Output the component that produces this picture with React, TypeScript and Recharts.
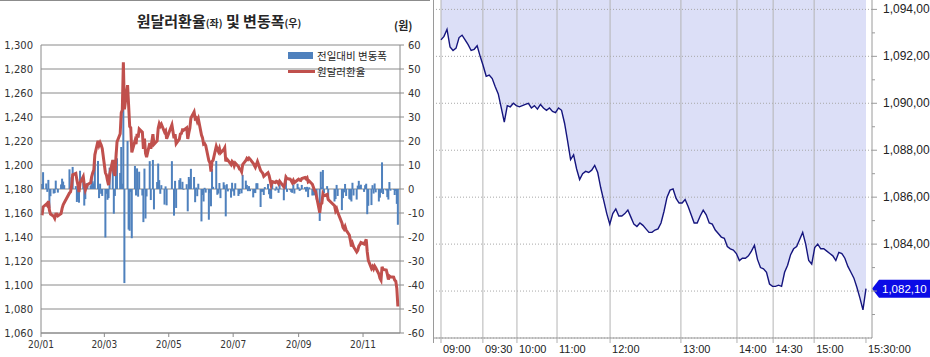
import React from 'react';
import {
  ComposedChart,
  Bar,
  Line,
  Area,
  XAxis,
  YAxis,
  CartesianGrid,
  ReferenceLine,
  Legend,
} from 'recharts';

// ---------- left panel: daily USD/KRW 2020 ----------

// trading days of 2020 (day of month), one row per month Jan..Dec
const TRADING_DAYS: number[][] = [
  [2, 3, 6, 7, 8, 9, 10, 13, 14, 15, 16, 17, 20, 21, 22, 23, 28, 29, 30, 31],
  [3, 4, 5, 6, 7, 10, 11, 12, 13, 14, 17, 18, 19, 20, 21, 24, 25, 26, 27, 28],
  [2, 3, 4, 5, 6, 9, 10, 11, 12, 13, 16, 17, 18, 19, 20, 23, 24, 25, 26, 27, 30, 31],
  [1, 2, 3, 6, 7, 8, 9, 10, 13, 14, 16, 17, 20, 21, 22, 23, 24, 27, 28, 29],
  [4, 6, 7, 8, 11, 12, 13, 14, 15, 18, 19, 20, 21, 22, 25, 26, 27, 28, 29],
  [1, 2, 3, 4, 5, 8, 9, 10, 11, 12, 15, 16, 17, 18, 19, 22, 23, 24, 25, 26, 29, 30],
  [1, 2, 3, 6, 7, 8, 9, 10, 13, 14, 15, 16, 17, 20, 21, 22, 23, 24, 27, 28, 29, 30, 31],
  [3, 4, 5, 6, 7, 10, 11, 12, 13, 14, 18, 19, 20, 21, 24, 25, 26, 27, 28, 31],
  [1, 2, 3, 4, 7, 8, 9, 10, 11, 14, 15, 16, 17, 18, 21, 22, 23, 24, 25, 28, 29],
  [5, 6, 7, 8, 12, 13, 14, 15, 16, 19, 20, 21, 22, 23, 26, 27, 28, 29, 30],
  [2, 3, 4, 5, 6, 9, 10, 11, 12, 13, 16, 17, 18, 19, 20, 23, 24, 25, 26, 27, 30],
  [1, 2, 3, 4],
];

// 원달러환율 (left axis)
const usdKrw: number[] = [
  1158.1, 1165.1, 1167.4, 1166.2, 1170.0, 1162.1, 1159.1, 1157.2, 1155.5, 1159.0, 1159.1, 1157.6, 1159.5, 1163.8, 1166.9, 1168.5, 1176.7, 1177.7, 1182.6, 1191.8,
  1193.0, 1187.6, 1183.2, 1177.5, 1185.1, 1190.3, 1183.4, 1179.2, 1181.6, 1183.7, 1185.2, 1190.3, 1193.5, 1195.8, 1208.5, 1220.2, 1216.4, 1218.6, 1216.6, 1213.7,
  1193.5, 1191.5, 1187.0, 1183.2, 1192.1, 1204.2, 1193.9, 1191.0, 1206.5, 1219.3, 1226.0, 1243.5, 1245.7, 1285.7, 1246.5, 1266.5, 1249.6, 1232.2, 1231.0, 1210.5, 1220.1, 1217.4,
  1226.0, 1222.8, 1230.0, 1227.3, 1213.5, 1222.0, 1209.7, 1206.6, 1218.2, 1213.6, 1225.7, 1217.2, 1220.1, 1230.7, 1234.4, 1232.4, 1234.0, 1227.5, 1228.6, 1221.8,
  1233.4, 1222.3, 1225.7, 1217.8, 1221.5, 1226.0, 1226.3, 1229.3, 1229.0, 1231.0, 1221.7, 1226.7, 1230.8, 1239.2, 1244.2, 1238.7, 1239.3, 1236.3, 1238.5,
  1225.0, 1222.5, 1217.3, 1217.8, 1216.3, 1203.5, 1201.8, 1194.6, 1203.0, 1203.9, 1215.6, 1213.2, 1211.3, 1213.8, 1210.0, 1212.8, 1214.4, 1203.0, 1205.0, 1204.0, 1200.4, 1203.0,
  1202.0, 1199.2, 1201.6, 1198.7, 1196.6, 1196.2, 1194.4, 1200.3, 1203.8, 1205.5, 1204.6, 1205.8, 1204.9, 1201.4, 1199.8, 1198.1, 1200.5, 1202.9, 1195.4, 1194.2, 1193.1, 1190.6, 1191.4,
  1193.5, 1191.3, 1187.4, 1183.3, 1186.1, 1185.4, 1186.4, 1186.1, 1184.5, 1186.5, 1181.8, 1184.3, 1189.9, 1188.7, 1188.2, 1186.9, 1185.3, 1187.2, 1185.3, 1187.5,
  1188.2, 1187.4, 1187.1, 1188.8, 1189.6, 1188.5, 1189.4, 1186.0, 1186.7, 1184.0, 1181.4, 1178.8, 1177.9, 1173.5, 1160.2, 1167.4, 1168.1, 1176.0, 1174.3, 1175.5, 1171.2,
  1166.0, 1161.8, 1163.5, 1160.6, 1151.8, 1148.0, 1146.6, 1148.7, 1145.8, 1141.7, 1137.2, 1132.0, 1134.6, 1131.9, 1127.5, 1128.9, 1132.3, 1133.6, 1135.4,
  1134.2, 1135.8, 1138.0, 1127.5, 1120.5, 1113.8, 1115.4, 1113.5, 1115.8, 1114.4, 1109.2, 1105.6, 1104.0, 1115.1, 1113.0, 1112.4, 1109.0, 1104.6, 1107.5, 1106.8, 1106.5,
  1104.0, 1103.2, 1097.0, 1082.1,
];

// 전일대비 변동폭 (right axis)
const dailyChange: number[] = [
  2.1, 7.0, 2.3, -1.2, 3.8, -7.9, -3.0, -1.9, -1.7, 3.5, 0.1, -1.5, 1.9, 4.3, 3.1, 1.6, 8.2, 1.0, 4.9, 9.2,
  1.2, -5.4, -4.4, -5.7, 7.6, 5.2, -6.9, -4.2, 2.4, 2.1, 1.5, 5.1, 3.2, 2.3, 12.7, 11.7, -3.8, 2.2, -2.0, -2.9,
  -20.2, -2.0, -4.5, -3.8, 8.9, 12.1, -10.3, -2.9, 15.5, 12.8, 6.7, 17.5, 2.2, 40.0, -39.2, 20.0, -16.9, -17.4, -1.2, -20.5, 9.6, -2.7,
  8.6, -3.2, 7.2, -2.7, -13.8, 8.5, -12.3, -3.1, 11.6, -4.6, 12.1, -8.5, 2.9, 10.6, 3.7, -2.0, 1.6, -6.5, 1.1, -6.8,
  11.6, -11.1, 3.4, -7.9, 3.7, 4.5, 0.3, 3.0, -0.3, 2.0, -9.3, 5.0, 4.1, 8.4, 5.0, -5.5, 0.6, -3.0, 2.2,
  -13.5, -2.5, -5.2, 0.5, -1.5, -12.8, -1.7, -7.2, 8.4, 0.9, 11.7, -2.4, -1.9, 2.5, -3.8, 2.8, 1.6, -11.4, 2.0, -1.0, -3.6, 2.6,
  -1.0, -2.8, 2.4, -2.9, -2.1, -0.4, -1.8, 5.9, 3.5, 1.7, -0.9, 1.2, -0.9, -3.5, -1.6, -1.7, 2.4, 2.4, -7.5, -1.2, -1.1, -2.5, 0.8,
  2.1, -2.2, -3.9, -4.1, 2.8, -0.7, 1.0, -0.3, -1.6, 2.0, -4.7, 2.5, 5.6, -1.2, -0.5, -1.3, -1.6, 1.9, -1.9, 2.2,
  0.7, -0.8, -0.3, 1.7, 0.8, -1.1, 0.9, -3.4, 0.7, -2.7, -2.6, -2.6, -0.9, -4.4, -13.3, 7.2, 0.7, 7.9, -1.7, 1.2, -4.3,
  -5.2, -4.2, 1.7, -2.9, -8.8, -3.8, -1.4, 2.1, -2.9, -4.1, -4.5, -5.2, 2.6, -2.7, -4.4, 1.4, 3.4, 1.3, 1.8,
  -1.2, 1.6, 2.2, -10.5, -7.0, -6.7, 1.6, -1.9, 2.3, -1.4, -5.2, -3.6, -1.6, 11.1, -2.1, -0.6, -3.4, -4.4, 2.9, -0.7, -0.3,
  -2.5, -0.8, -6.2, -14.9,
];

const monthTickLabels = ['20/01', '20/03', '20/05', '20/07', '20/09', '20/11'];
const monthTickMonths = [0, 2, 4, 6, 8, 10];
const rateTicks = [1060, 1080, 1100, 1120, 1140, 1160, 1180, 1200, 1220, 1240, 1260, 1280, 1300];
const changeTicks = [-60, -50, -40, -30, -20, -10, 0, 10, 20, 30, 40, 50, 60];

// ---------- right panel: intraday quotes (09:00 ~ 15:30) ----------

const intradayPrice: number[] = [
  1092.7, 1092.85, 1093.15, 1092.4, 1092.25, 1092.35, 1092.8, 1092.9, 1092.7, 1092.5,
  1092.25, 1092.3, 1092.45, 1092.0, 1091.6, 1091.15, 1091.2, 1091.05, 1090.7, 1090.4,
  1089.8, 1089.2, 1089.9, 1089.85, 1090.0, 1089.9, 1089.85, 1089.9, 1089.95, 1090.0,
  1089.8, 1089.9, 1089.75, 1089.95, 1089.8, 1089.7, 1089.8, 1089.65, 1089.6, 1089.8,
  1089.7, 1089.15, 1088.4, 1087.6, 1087.8, 1087.2, 1086.75, 1087.0, 1087.1, 1087.05,
  1087.15, 1087.35, 1087.05, 1086.4, 1085.85, 1085.3, 1084.85, 1085.3, 1085.5, 1085.2,
  1085.2, 1085.3, 1085.45, 1085.15, 1084.85, 1084.75, 1084.9, 1084.8, 1084.65, 1084.5,
  1084.5, 1084.6, 1084.65, 1084.9, 1085.4, 1086.0, 1086.3, 1086.35, 1085.95, 1085.75,
  1085.75, 1085.9, 1085.6, 1085.25, 1084.9, 1084.9, 1085.2, 1085.45, 1085.25, 1084.9,
  1084.85, 1084.6, 1084.45, 1084.3, 1084.25, 1083.9, 1083.8, 1083.75, 1083.6, 1083.3,
  1083.4, 1083.4, 1083.5, 1083.7, 1083.95, 1083.35, 1083.0, 1082.95, 1082.8, 1082.3,
  1082.2, 1082.2, 1082.25, 1082.2, 1082.8, 1083.1, 1083.55, 1083.8, 1083.9, 1084.2,
  1084.5, 1084.0, 1083.3, 1083.15, 1083.85, 1084.0, 1083.8, 1083.8, 1083.7, 1083.6,
  1083.5, 1083.3, 1083.65, 1083.6, 1083.4, 1083.05, 1082.8, 1082.55, 1082.15, 1081.7,
  1081.2, 1082.1,
];

const timeLabels = ['09:00', '09:30', '10:00', '11:00', '12:00', '13:00', '14:00', '14:30', '15:00', '15:30:00'];
// position of each time label in the quote sequence
const timeTickPos = [0, 13.9, 25.2, 38.5, 56.1, 79.6, 98.2, 110.2, 123.8, 141];
const priceTicks = [1081, 1082, 1083, 1084, 1085, 1086, 1087, 1088, 1089, 1090, 1091, 1092, 1093, 1094];
const priceGrid = [1080, 1082, 1084, 1086, 1088, 1090, 1092, 1094];
const lastPrice = 1082.1;

const CJK = '"Noto Sans CJK KR", "Noto Sans", sans-serif';
const BAR_BLUE = '#4f81bd';
const LINE_RED = '#c0504d';

const dayOfYear = (m: number, d: number) =>
  Math.round((Date.UTC(2020, m, d) - Date.UTC(2020, 0, 1)) / 86400000);

const fxData = TRADING_DAYS.flatMap((days, m) => days.map((d) => dayOfYear(m, d))).map((day, i) => ({
  day,
  rate: usdKrw[i],
  chg: dailyChange[i],
}));
const monthStartDays = monthTickMonths.map((m) => dayOfYear(m, 1));

const quotes = intradayPrice.map((p, i) => ({ i, p }));

const fmtPrice = (v: number) =>
  v.toLocaleString('en-US', { minimumFractionDigits: 2, maximumFractionDigits: 2 }).replace('.', ',');

// daily bars sit on a date axis (1 day ~ 1px), so widen each one around its centre
const ChangeBar = (props: any) => {
  const { x, y, width, height, fill } = props;
  if (x == null || y == null) return null;
  const top = Math.min(y, y + height);
  const h = Math.abs(height);
  const cx = x + width / 2;
  return <rect x={cx - 1} y={top} width={2} height={h} fill={fill} />;
};

const FxLegend = () => (
  <div style={{ fontFamily: CJK, fontSize: 10.5, color: '#262626', lineHeight: '15.5px' }}>
    <div style={{ display: 'flex', alignItems: 'center' }}>
      <span style={{ display: 'inline-block', width: 25, height: 7, background: BAR_BLUE, marginRight: 4 }} />
      전일대비 변동폭
    </div>
    <div style={{ display: 'flex', alignItems: 'center' }}>
      <span style={{ display: 'inline-block', width: 27, height: 3, background: LINE_RED, marginRight: 2 }} />
      원달러환율
    </div>
  </div>
);

const PriceTick = ({ x, y, payload }: any) => {
  const major = payload.value % 2 === 0;
  // the current-price tag covers the 1,082 label
  const showLabel = major && Math.abs(payload.value - lastPrice) > 0.5;
  return (
    <g>
      <line x1={x} x2={x + (major ? 5 : 3)} y1={y} y2={y} stroke="#9a9a9a" />
      {showLabel && (
        <text x={x + 11} y={y} dy={4} fill="#222" fontSize={12} fontFamily='"Liberation Sans", Arial, sans-serif'>
          {fmtPrice(payload.value)}
        </text>
      )}
    </g>
  );
};

const TimeTick = ({ x, y, payload }: any) => (
  <text x={x + 2} y={y} dy={10} textAnchor="start" fill="#222" fontSize={11} fontFamily='"Liberation Sans", Arial, sans-serif'>
    {timeLabels[timeTickPos.indexOf(payload.value)]}
  </text>
);

const PriceTag = ({ viewBox, text }: any) => {
  if (!viewBox) return null;
  const x = viewBox.x + viewBox.width;
  const y = viewBox.y;
  return (
    <g>
      <polygon
        points={`${x},${y} ${x + 7},${y - 9} ${x + 60},${y - 9} ${x + 60},${y + 9} ${x + 7},${y + 9}`}
        fill="#0b0be6"
      />
      <text x={x + 10} y={y} dy={4} fill="#fff" fontSize={11.5} fontFamily='"Liberation Sans", Arial, sans-serif'>
        {text}
      </text>
    </g>
  );
};

export default function App() {
  return (
    <div style={{ position: 'absolute', left: 0, top: 0, width: 930, height: 357, background: '#fff', overflow: 'hidden' }}>
      {/* left panel */}
      <div style={{ position: 'absolute', left: 0, top: 0, width: 430, height: 1, background: '#8c8c8c' }} />
      <div
        style={{
          position: 'absolute', left: 4, top: 10, width: 430, textAlign: 'center',
          fontFamily: CJK, fontWeight: 700, fontSize: 15, color: '#262626', lineHeight: '22px',
        }}
      >
        원달러환율<span style={{ fontSize: 10 }}>(좌)</span> 및 변동폭<span style={{ fontSize: 10 }}>(우)</span>
      </div>
      <div style={{ position: 'absolute', left: 394, top: 17, fontFamily: CJK, fontSize: 11, fontWeight: 700, color: '#262626' }}>
        (원)
      </div>
      <div style={{ position: 'absolute', left: 0, top: 0 }}>
        <ComposedChart width={430} height={357} data={fxData} margin={{ top: 45, right: 0, bottom: 0, left: 0 }}>
          <CartesianGrid yAxisId="rate" vertical={false} stroke="#8a8a8a" />
          <XAxis
            type="number"
            dataKey="day"
            domain={[0, 340]}
            ticks={monthStartDays}
            interval={0}
            tickFormatter={(v: number) => monthTickLabels[monthStartDays.indexOf(v)]}
            height={24}
            tickSize={4}
            tickMargin={4}
            stroke="#8a8a8a"
            tick={{ fill: '#333', fontSize: 10, fontFamily: '"Liberation Sans Narrow", "DejaVu Sans Condensed", "Liberation Sans", sans-serif' }}
          />
          <YAxis
            yAxisId="rate"
            domain={[1060, 1300]}
            ticks={rateTicks}
            interval={0}
            width={41}
            tickLine={false}
            stroke="#8a8a8a"
            tickFormatter={(v: number) => v.toLocaleString('en-US')}
            tick={{ fill: '#333', fontSize: 10, fontFamily: '"DejaVu Sans", sans-serif' }}
          />
          <YAxis
            yAxisId="chg"
            orientation="right"
            domain={[-60, 60]}
            ticks={changeTicks}
            interval={0}
            width={30}
            tickSize={4}
            tickMargin={4}
            stroke="#8a8a8a"
            tick={{ fill: '#333', fontSize: 10, fontFamily: '"DejaVu Sans", sans-serif', textAnchor: 'start' }}
          />
          <Legend
            layout="vertical"
            align="center"
            verticalAlign="middle"
            content={<FxLegend />}
            wrapperStyle={{ left: 288, top: 48, width: 130 }}
          />
          <Bar
            yAxisId="chg"
            dataKey="chg"
            name="전일대비 변동폭"
            fill={BAR_BLUE}
            barSize={1}
            shape={<ChangeBar />}
            isAnimationActive={false}
          />
          <Line
            yAxisId="rate"
            dataKey="rate"
            name="원달러환율"
            type="linear"
            stroke={LINE_RED}
            strokeWidth={3}
            dot={false}
            isAnimationActive={false}
          />
        </ComposedChart>
      </div>

      {/* right panel */}
      <div style={{ position: 'absolute', left: 430, top: 0 }}>
        <ComposedChart width={500} height={357} data={quotes} margin={{ top: 0, right: 0, bottom: 0, left: 3 }}>
          <XAxis
            type="number"
            dataKey="i"
            domain={[-2.65, 143]}
            ticks={timeTickPos}
            interval={0}
            height={19}
            tickSize={5}
            tickMargin={0}
            axisLine={{ stroke: '#9a9a9a' }}
            tickLine={{ stroke: '#b0b0b0' }}
            tick={<TimeTick />}
          />
          <YAxis
            orientation="right"
            domain={[1080, 1094.4]}
            ticks={priceTicks}
            interval={0}
            width={58}
            tickLine={false}
            tickSize={0}
            tickMargin={0}
            axisLine={{ stroke: '#9a9a9a' }}
            tick={<PriceTick />}
            allowDataOverflow
          />
          <Area
            dataKey="p"
            type="linear"
            baseValue="dataMax"
            fill="#dcdff7"
            fillOpacity={1}
            stroke="none"
            isAnimationActive={false}
          />
          {priceGrid.map((v) => (
            <ReferenceLine key={`h${v}`} y={v} stroke="#a8a8a8" strokeDasharray="1 2" />
          ))}
          {timeTickPos.slice(0, -1).map((t) => (
            <ReferenceLine key={`v${t}`} x={t} stroke="#b4b4b4" />
          ))}
          <Line dataKey="p" type="linear" stroke="#15157e" strokeWidth={1.4} dot={false} isAnimationActive={false} />
          <ReferenceLine y={lastPrice} stroke="none" label={<PriceTag text={fmtPrice(lastPrice)} />} />
        </ComposedChart>
      </div>
      <div style={{ position: 'absolute', left: 433, top: 0, width: 1, height: 343, background: '#9a9a9a' }} />
    </div>
  );
}
